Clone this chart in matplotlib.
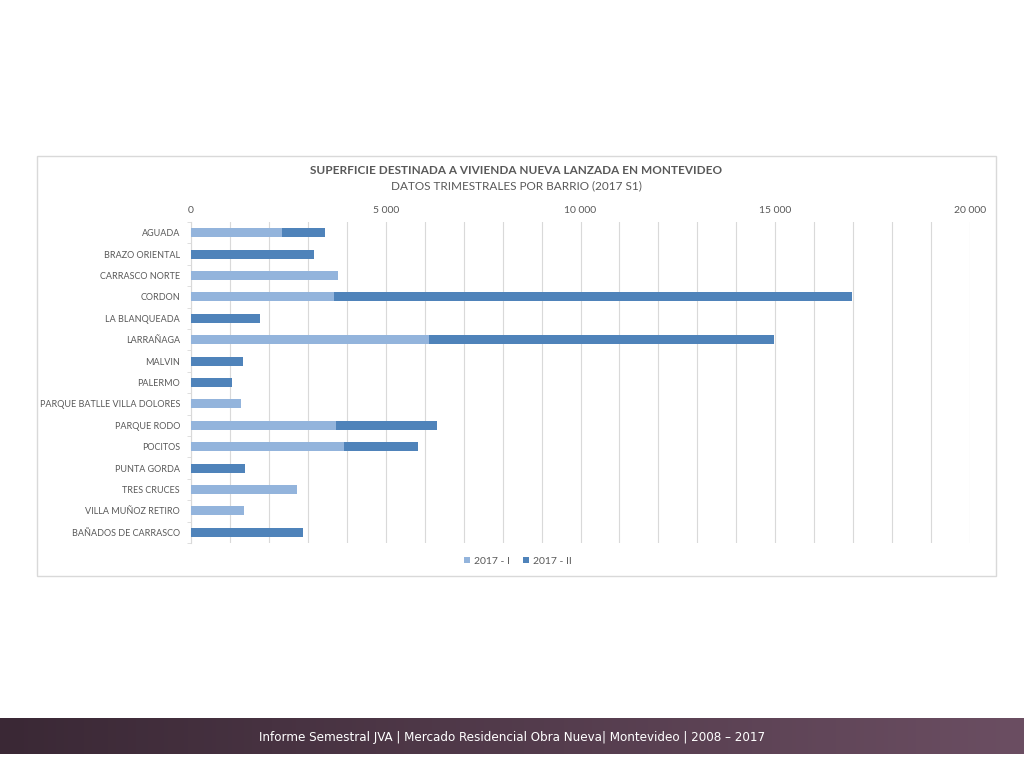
import numpy as np
import matplotlib
matplotlib.use('agg')
import matplotlib.pyplot as plt
from matplotlib.patches import Rectangle

plt.rcParams['font.family'] = ['Lato', 'DejaVu Sans']

barrios = ["AGUADA", "BRAZO ORIENTAL", "CARRASCO NORTE", "CORDON", "LA BLANQUEADA",
           "LARRAÑAGA", "MALVIN", "PALERMO", "PARQUE BATLLE VILLA DOLORES",
           "PARQUE RODO", "POCITOS", "PUNTA GORDA", "TRES CRUCES",
           "VILLA MUÑOZ RETIRO", "BAÑADOS DE CARRASCO"]
s2017_1 = [2340, 0, 3770, 3670, 0, 6100, 0, 0, 1290, 3720, 3930, 0, 2720, 1360, 0]
s2017_2 = [1100, 3160, 0, 13300, 1770, 8860, 1340, 1050, 0, 2590, 1900, 1390, 0, 0, 2880]
series_names = ["2017 - I", "2017 - II"]
xticks = [0, 5000, 10000, 15000, 20000]
xtick_labels = ["0", "5 000", "10 000", "15 000", "20 000"]

light = '#93b4dc'
dark = '#4f83ba'
grey = '#595959'

fig = plt.figure(figsize=(10.24, 7.68), dpi=100)

# chart frame
fig.patches.append(Rectangle((37/1024, 1-576/768), 959/1024, 420/768,
                             transform=fig.transFigure, fill=False,
                             edgecolor='#d9d9d9', linewidth=1))

ax = fig.add_axes([191/1024, 1-543/768, 779/1024, 321/768])
y = np.arange(len(barrios))
ax.barh(y, s2017_1, height=0.42, color=light, label=series_names[0], zorder=3)
ax.barh(y, s2017_2, left=s2017_1, height=0.42, color=dark, label=series_names[1], zorder=3)
ax.set_ylim(len(barrios) - 0.5, -0.5)
ax.set_xlim(0, 20000)
ax.set_yticks(y)
ax.set_yticklabels(barrios, fontsize=6.5, color=grey)
ax.set_yticks(np.arange(len(barrios) + 1) - 0.5, minor=True)
ax.tick_params(axis='y', which='major', length=0, pad=8)
ax.tick_params(axis='y', which='minor', length=3, color='#d9d9d9')
ax.xaxis.tick_top()
ax.set_xticks(xticks)
ax.set_xticklabels(xtick_labels, fontsize=7.5, color=grey)
ax.set_xticks(np.arange(0, 20001, 1000), minor=True)
ax.tick_params(axis='x', which='both', length=0, pad=5)
ax.grid(axis='x', which='both', color='#d9d9d9', linewidth=0.8, zorder=0)
for s in ['top', 'right', 'bottom']:
    ax.spines[s].set_visible(False)
ax.spines['left'].set_color('#d9d9d9')

fig.text(516/1024, 1-170/768, "SUPERFICIE DESTINADA A VIVIENDA NUEVA LANZADA EN MONTEVIDEO",
         ha='center', va='center', fontsize=8.5, fontweight='bold', color=grey)
fig.text(516/1024, 1-186/768, "DATOS TRIMESTRALES POR BARRIO (2017 S1)",
         ha='center', va='center', fontsize=8.5, color=grey)

fig.legend(loc='center', bbox_to_anchor=(518/1024, 1-561/768), ncol=2, frameon=False,
           fontsize=7.5, labelcolor=grey, handlelength=0.6, handleheight=0.6,
           handletextpad=0.4, columnspacing=1.2)

# footer band
fax = fig.add_axes([0, 1-754/768, 1, 36/768])
grad = np.linspace(0, 1, 256).reshape(1, -1)
cmap = matplotlib.colors.LinearSegmentedColormap.from_list('band', ['#3a2835', '#6b4e62'])
fax.imshow(grad, aspect='auto', cmap=cmap, extent=[0, 1, 0, 1])
fax.set_axis_off()
fax.text(0.5, 0.45, "Informe Semestral JVA | Mercado Residencial Obra Nueva| Montevideo | 2008 – 2017",
         ha='center', va='center', color='white', fontsize=9.5,
         family=['DejaVu Sans'], fontstretch='condensed')

fig.savefig('out.png', dpi=100)
